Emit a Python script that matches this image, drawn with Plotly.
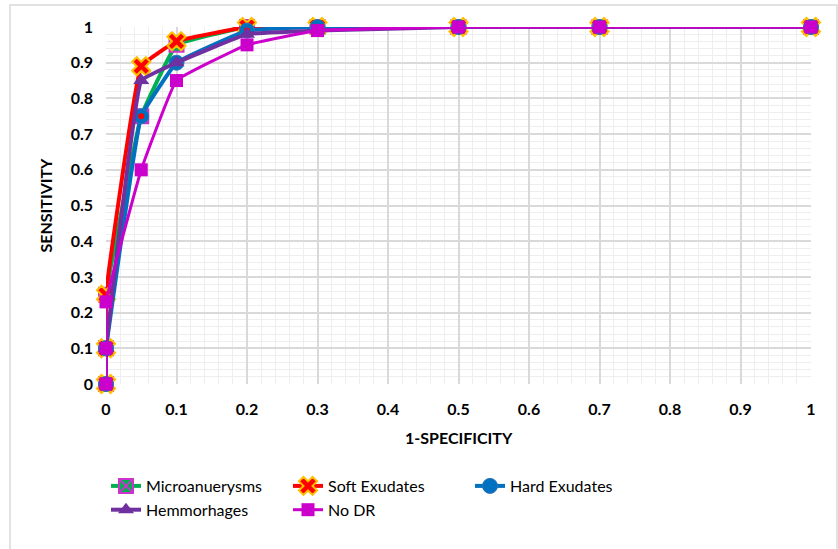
import plotly.graph_objects as go

fpr = [0, 0, 0, 0.05, 0.1, 0.2, 0.3, 0.5, 0.7, 1]
micro = [0, 0.1, 0.25, 0.75, 0.95, 1.0, 1.0, 1.0, 1.0, 1.0]
soft = [0, 0.1, 0.25, 0.89, 0.96, 1.0, 1.0, 1.0, 1.0, 1.0]
hard = [0, 0.1, 0.1, 0.75, 0.9, 0.99, 1.0, 1.0, 1.0, 1.0]
hemo = [0, 0.1, 0.1, 0.85, 0.9, 0.98, 0.99, 1.0, 1.0, 1.0]
nodr = [0, 0.1, 0.23, 0.6, 0.85, 0.95, 0.99, 1.0, 1.0, 1.0]

x_ticks = [0, 0.1, 0.2, 0.3, 0.4, 0.5, 0.6, 0.7, 0.8, 0.9, 1]
y_ticks = [0, 0.1, 0.2, 0.3, 0.4, 0.5, 0.6, 0.7, 0.8, 0.9, 1]

FONT = "Lato"
fig = go.Figure()

def line(color, width=4):
    return dict(color=color, width=width, shape="spline", smoothing=0.25)

fig.add_trace(go.Scatter(x=fpr, y=micro, name="Microanuerysms", mode="lines+markers", cliponaxis=False,
                         line=line("#00B050"),
                         marker=dict(symbol="square-x", size=14, color="#00B050",
                                     line=dict(color="#CC33CC", width=2))))
fig.add_trace(go.Scatter(x=fpr, y=soft, name="Soft Exudates", mode="lines+markers", cliponaxis=False,
                         line=line("#FF0000"),
                         marker=dict(symbol="x", size=16, color="#FF0000",
                                     line=dict(color="#FFC000", width=2))))
fig.add_trace(go.Scatter(x=fpr, y=hard, name="Hard Exudates", mode="lines+markers", cliponaxis=False,
                         line=line("#0070C0"),
                         marker=dict(symbol="circle", size=15, color="#0070C0",
                                     line=dict(color="#2E75B6", width=1))))
fig.add_trace(go.Scatter(x=fpr, y=hard, name="Hard Exudates dot", mode="markers", cliponaxis=False,
                         showlegend=False, hoverinfo="skip",
                         marker=dict(symbol="circle", size=6, color="#FF0000")))
fig.add_trace(go.Scatter(x=fpr, y=hemo, name="Hemmorhages", mode="lines+markers", cliponaxis=False,
                         line=line("#7030A0"),
                         marker=dict(symbol="triangle-up", size=14, color="#7030A0")))
fig.add_trace(go.Scatter(x=fpr, y=nodr, name="No DR", mode="lines+markers", cliponaxis=False,
                         line=line("#CC00CC", 3),
                         marker=dict(symbol="square", size=13, color="#CC00CC")))

axis_common = dict(
    showgrid=True, gridcolor="#D9D9D9", gridwidth=1.5,
    minor=dict(dtick=0.02, showgrid=True, gridcolor="#EEEEEE", gridwidth=1),
    zeroline=False, showline=False, ticks="", automargin=False,
    tickfont=dict(family=FONT, size=16, color="#000000", weight="bold"),
)

fig.update_xaxes(range=[0, 1], tickvals=x_ticks, ticktext=[str(v) for v in x_ticks],
                 ticklabelstandoff=14, **axis_common)
fig.update_yaxes(range=[0, 1], tickvals=y_ticks, ticktext=[str(v) for v in y_ticks],
                 ticklabelstandoff=12, **axis_common)

fig.add_annotation(text="1-SPECIFICITY", xref="paper", yref="paper", x=0.5, y=(384 - 438) / 357,
                   xanchor="center", yanchor="middle", showarrow=False,
                   font=dict(family=FONT, size=16, color="#000", weight="bold"))
fig.add_annotation(text="SENSITIVITY", xref="paper", yref="paper", x=(45 - 106) / 705, y=0.5,
                   xanchor="center", yanchor="middle", showarrow=False, textangle=-90,
                   font=dict(family=FONT, size=16, color="#000", weight="bold"))

fig.add_shape(type="rect", xref="paper", yref="paper",
              x0=(10 - 106) / 705, x1=(837 - 106) / 705,
              y0=(384 - 560) / 357, y1=(384 - 5) / 357,
              line=dict(color="#D9D9D9", width=1.5), layer="below")

fig.update_layout(
    width=838, height=549,
    margin=dict(l=106, r=27, t=27, b=165),
    paper_bgcolor="white", plot_bgcolor="white",
    font=dict(family=FONT, color="#000"),
    showlegend=True,
    legend=dict(orientation="h", x=0.0, xanchor="left", y=(384 - 469) / 357, yanchor="top",
                font=dict(family=FONT, size=16, color="#000"),
                entrywidth=137, entrywidthmode="pixels", itemwidth=30,
                tracegroupgap=0),
)

fig.write_html("out.html")
